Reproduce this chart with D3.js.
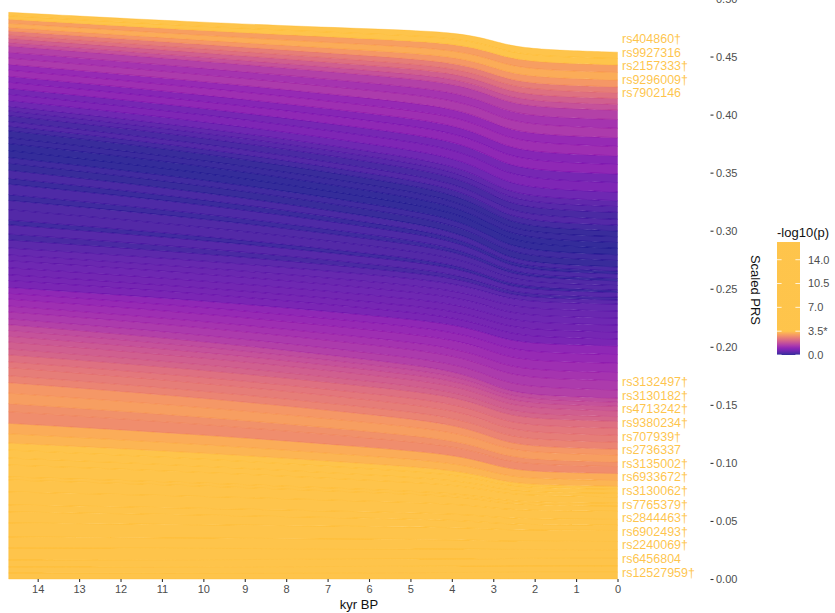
<!DOCTYPE html>
<html><head><meta charset="utf-8">
<script src="https://cdn.jsdelivr.net/npm/d3@7"></script>
<style>
body{margin:0;background:#fff;overflow:hidden;}
svg text{font-family:Arial,"Liberation Sans",sans-serif;}
</style></head><body>
<svg id="chart" width="835" height="613"></svg>
<script>
// ---- data ----
const timesKyr = [14.7, 10, 6, 3.9, 3, 2.3, 0];
const xTickValues = [14,13,12,11,10,9,8,7,6,5,4,3,2,1,0];
const yTickValues = [0,0.05,0.10,0.15,0.20,0.25,0.30,0.35,0.40,0.45,0.50];
const legendTickValues = [0,3.5,7,10.5,14];
const legendTickLabels = ["0.0","3.5*","7.0","10.5","14.0"];
const legendMax = 16.6;

// labelled SNPs (bottom-up)
const bottomLabels = ["rs12527959†","rs6456804","rs2240069†","rs6902493†","rs2844463†","rs7765379†","rs3130062†","rs6933672†","rs3135002†","rs2736337","rs707939†","rs9380234†","rs4713242†","rs3130182†","rs3132497†"];
const topLabels = ["rs7902146","rs9296009†","rs2157333†","rs9927316","rs404860†"];

// -log10(p) of each stacked SNP, bottom to top
const negLog10P = [15.2,6.1,9.8,4.9,7.4,5.3,8.1,4.4,6.3,4.0,5.6,3.9,4.6,3.8,3.6,
 3.3,3.2,2.75,2.8,3.0,2.9,
 2.6,2.5,2.4,2.3,
 2.1,2.0,1.9,1.8,1.7,
 1.5,1.4,1.3,1.2,1.1,1.0,
 0.75,0.7,0.65,0.6,0.55,0.5,
 0.4,0.2,0.35,0.12,0.3,0.28,0.1,0.25,0.08,0.22,
 0.05,0.12,0.03,
 0.02,0.08,0.05,
 0.15,0.3,0.2,0.35,0.45,
 0.6,0.8,0.7,1.0,0.9,1.2,1.1,1.4,1.3,1.5,
 1.8,2.0,2.3,2.5,
 2.9,3.2,3.0,
 4.2,5.5];

// scaled PRS contribution of each SNP at each time point (bottom to top)
const prs_14_7 = [.0052,.0052,.0060,.0103,.0095,.0121,.0095,.0060,.0112,.0103,.0026,.0103,.0060,.0069,.0060,
 .0080,.0090,.0100,.0070,.0090,.0090, .0060,.0070,.0050,.0060, .0050,.0060,.0050,.0050,.0050,
 .0050,.0060,.0050,.0060,.0050,.0050, .0060,.0050,.0060,.0060,.0050,.0060,
 .0070,.0050,.0080,.0040,.0090,.0080,.0050,.0090,.0050,.0070, .0060,.0050,.0060, .0060,.0050,.0060,
 .0040,.0040,.0050,.0040,.0040, .0050,.0054,.0050,.0054,.0050,.0054,.0050,.0054,.0050,.0054,
 .0030,.0035,.0030,.0035, .0030,.0035,.0035, .0030,.0030];
const prs_10 = [.0053,.0053,.0061,.0097,.0089,.0115,.0084,.0058,.0103,.0090,.0026,.0092,.0053,.0062,.0052,
 .0073,.0083,.0091,.0063,.0083,.0081, .0060,.0068,.0052,.0061, .0048,.0058,.0048,.0047,.0047,
 .0054,.0064,.0054,.0064,.0056,.0056, .0060,.0052,.0060,.0060,.0052,.0060,
 .0062,.0045,.0071,.0036,.0079,.0071,.0043,.0079,.0045,.0062, .0059,.0050,.0059, .0058,.0050,.0058,
 .0042,.0042,.0052,.0042,.0042, .0055,.0059,.0055,.0059,.0055,.0059,.0055,.0059,.0055,.0059,
 .0034,.0038,.0034,.0038, .0036,.0041,.0041, .0035,.0035];
const prs_6 = [.0055,.0053,.0062,.0090,.0083,.0109,.0071,.0055,.0092,.0075,.0026,.0080,.0046,.0053,.0043,
 .0066,.0076,.0081,.0056,.0076,.0071, .0060,.0065,.0055,.0060, .0045,.0055,.0045,.0043,.0043,
 .0060,.0070,.0060,.0070,.0062,.0062, .0060,.0055,.0060,.0060,.0055,.0060,
 .0053,.0038,.0061,.0030,.0066,.0061,.0036,.0066,.0038,.0053, .0058,.0050,.0058, .0055,.0050,.0055,
 .0045,.0045,.0055,.0045,.0045, .0063,.0068,.0063,.0068,.0063,.0068,.0063,.0068,.0063,.0068,
 .0040,.0043,.0040,.0043, .0045,.0050,.0050, .0043,.0043];
const prs_3_9 = [.0056,.0054,.0063,.0086,.0080,.0105,.0064,.0054,.0086,.0067,.0025,.0073,.0041,.0048,.0038,
 .0061,.0071,.0075,.0051,.0071,.0065, .0060,.0064,.0056,.0060, .0044,.0054,.0044,.0041,.0041,
 .0062,.0072,.0062,.0072,.0066,.0066, .0060,.0056,.0060,.0060,.0056,.0060,
 .0048,.0035,.0055,.0028,.0059,.0055,.0031,.0059,.0035,.0048, .0057,.0050,.0057, .0053,.0050,.0053,
 .0047,.0047,.0057,.0047,.0047, .0068,.0073,.0068,.0073,.0068,.0073,.0068,.0073,.0068,.0073,
 .0044,.0046,.0044,.0046, .0051,.0056,.0056, .0048,.0048];
const prs_3 = [.0057,.0054,.0064,.0080,.0074,.0100,.0054,.0052,.0077,.0055,.0025,.0063,.0035,.0041,.0031,
 .0055,.0065,.0067,.0045,.0065,.0057, .0060,.0062,.0058,.0059, .0042,.0052,.0042,.0038,.0038,
 .0067,.0077,.0067,.0077,.0071,.0071, .0060,.0058,.0060,.0060,.0058,.0060,
 .0041,.0029,.0047,.0023,.0049,.0047,.0025,.0049,.0029,.0041, .0056,.0050,.0056, .0051,.0050,.0051,
 .0049,.0049,.0059,.0049,.0049, .0073,.0078,.0073,.0078,.0073,.0078,.0073,.0078,.0073,.0078,
 .0048,.0049,.0048,.0049, .0057,.0062,.0062, .0053,.0053];
const prs_2_3 = [.0058,.0055,.0065,.0076,.0071,.0096,.0047,.0050,.0072,.0047,.0025,.0057,.0031,.0036,.0026,
 .0051,.0061,.0062,.0041,.0061,.0052, .0060,.0060,.0060,.0060, .0040,.0050,.0040,.0036,.0036,
 .0069,.0079,.0069,.0079,.0074,.0074, .0060,.0060,.0060,.0060,.0060,.0060,
 .0036,.0026,.0042,.0021,.0042,.0042,.0021,.0042,.0026,.0036, .0055,.0050,.0055, .0050,.0050,.0050,
 .0050,.0050,.0060,.0050,.0050, .0075,.0080,.0075,.0080,.0075,.0080,.0075,.0080,.0075,.0080,
 .0050,.0050,.0050,.0050, .0059,.0064,.0064, .0055,.0055];
const prs_0 = [.0058,.0055,.0065,.0075,.0070,.0095,.0045,.0050,.0070,.0045,.0025,.0055,.0030,.0035,.0025,
 .0050,.0060,.0060,.0040,.0060,.0050, .0060,.0060,.0060,.0060, .0040,.0050,.0040,.0035,.0035,
 .0070,.0080,.0070,.0080,.0075,.0075, .0060,.0060,.0060,.0060,.0060,.0060,
 .0035,.0025,.0040,.0020,.0040,.0040,.0020,.0040,.0025,.0035, .0055,.0050,.0055, .0050,.0050,.0050,
 .0050,.0050,.0060,.0050,.0050, .0075,.0081,.0075,.0081,.0075,.0081,.0075,.0081,.0075,.0081,
 .0050,.0050,.0050,.0050, .0060,.0065,.0065, .0055,.0055];

// ---- build ----
const prsByTime = [prs_14_7, prs_10, prs_6, prs_3_9, prs_3, prs_2_3, prs_0];
const nLayers = negLog10P.length;
const keys = d3.range(nLayers);
const table = timesKyr.map((t, k) => {
  const row = {t};
  keys.forEach(i => row[i] = prsByTime[k][i]);
  return row;
});
const series = d3.stack().keys(keys)(table);

const svg = d3.select("#chart");
const x = d3.scaleLinear().domain([14.7, 0]).range([8.7, 617.5]);
const y = d3.scaleLinear().domain([0, 0.5]).range([579, -1.5]);

const colorFor = p => d3.interpolatePlasma(Math.min(p, 3.5) / 3.5 * 0.85);

const area = d3.area()
  .x(d => x(d.data.t))
  .y0(d => y(d[0]))
  .y1(d => y(d[1]))
  .curve(d3.curveBasis);

svg.append("g").selectAll("path").data(series).join("path")
  .attr("d", area)
  .attr("fill", s => colorFor(negLog10P[s.key]))
  .attr("fill-opacity", 0.85)
  .attr("stroke", s => colorFor(negLog10P[s.key]))
  .attr("stroke-opacity", 0.75)
  .attr("stroke-width", 0.5);

// x axis
const xAxis = svg.append("g").attr("transform", "translate(0,579)")
  .call(d3.axisBottom(x).tickValues(xTickValues).tickFormat(d3.format("d")).tickSize(3).tickPadding(3));
xAxis.select(".domain").remove();
xAxis.selectAll("line").attr("stroke", "#333").attr("stroke-width", 1.1);
xAxis.selectAll("text").attr("fill", "#4d4d4d").attr("font-size", 11);

svg.append("text").attr("x", 359).attr("y", 609).attr("text-anchor", "middle")
  .attr("font-size", 13).attr("fill", "#111").text("kyr BP");

// y axis (right)
const yAxis = svg.append("g").attr("transform", "translate(710.5,0)")
  .call(d3.axisRight(y).tickValues(yTickValues).tickFormat(d3.format(".2f")).tickSize(3).tickPadding(2.5));
yAxis.select(".domain").remove();
yAxis.selectAll("line").attr("stroke", "#333").attr("stroke-width", 1.1);
yAxis.selectAll("text").attr("fill", "#4d4d4d").attr("font-size", 11);

svg.append("text").attr("transform", "translate(751,290) rotate(90)").attr("text-anchor", "middle")
  .attr("font-size", 13).attr("fill", "#111").text("Scaled PRS");

// labels with simple 1D repel
function repel(anchors, gap, lo, hi) {
  const n = anchors.length;
  const blocks = [];
  anchors.forEach((a, i) => {
    blocks.push({sum: a - i * gap, n: 1});
    while (blocks.length > 1) {
      const b2 = blocks[blocks.length - 1], b1 = blocks[blocks.length - 2];
      if (b1.sum / b1.n > b2.sum / b2.n) { blocks.pop(); b1.sum += b2.sum; b1.n += b2.n; } else break;
    }
  });
  const out = [];
  blocks.forEach(b => { for (let k = 0; k < b.n; k++) out.push(b.sum / b.n + out.length * gap); });
  out[n - 1] = Math.min(out[n - 1], hi);
  for (let i = n - 2; i >= 0; i--) out[i] = Math.min(out[i], out[i + 1] - gap);
  out[0] = Math.max(out[0], lo);
  for (let i = 1; i < n; i++) out[i] = Math.max(out[i], out[i - 1] + gap);
  return out;
}
const last = timesKyr.length - 1;
function placeLabels(names, layerIdx) {
  const items = names.map((nm, j) => {
    const s = series[layerIdx[j]][last];
    return {nm, a: y(s[1])};
  }).sort((p, q) => p.a - q.a);
  const pos = repel(items.map(d => d.a), 13.6, 6, 572);
  items.forEach((d, i) => d.y = pos[i]);
  return items;
}
const bottomItems = placeLabels(bottomLabels, d3.range(0, bottomLabels.length));
const topItems = placeLabels(topLabels, d3.range(nLayers - topLabels.length, nLayers));
svg.append("g").selectAll("text").data(bottomItems.concat(topItems)).join("text")
  .attr("x", x(0) + 4.5).attr("y", d => d.y).attr("dy", "0.36em")
  .attr("font-size", 12.5).attr("fill", colorFor(4)).attr("fill-opacity", 0.85)
  .text(d => d.nm);

// legend
const lg = svg.append("g");
lg.append("text").attr("x", 777).attr("y", 236.5).attr("font-size", 13).attr("fill", "#111").text("-log10(p)");
const ly = d3.scaleLinear().domain([0, legendMax]).range([355, 242]);
const grad = svg.append("defs").append("linearGradient").attr("id", "lg")
  .attr("x1", 0).attr("y1", 1).attr("x2", 0).attr("y2", 0);
const stopVals = d3.range(0, 11).map(i => i / 10 * 3.5).concat([legendMax]);
stopVals.forEach(v => {
  grad.append("stop").attr("offset", v / legendMax).attr("stop-color", colorFor(v));
});
lg.append("rect").attr("x", 777).attr("y", ly(legendMax)).attr("width", 23)
  .attr("height", ly(0) - ly(legendMax)).attr("fill", "url(#lg)").attr("fill-opacity", 0.85);
legendTickValues.forEach((v, i) => {
  lg.append("line").attr("x1", 777).attr("x2", 781.6).attr("y1", ly(v)).attr("y2", ly(v)).attr("stroke", "#fff").attr("stroke-opacity", 0.8);
  lg.append("line").attr("x1", 795.4).attr("x2", 800).attr("y1", ly(v)).attr("y2", ly(v)).attr("stroke", "#fff").attr("stroke-opacity", 0.8);
  lg.append("text").attr("x", 808).attr("y", ly(v)).attr("dy", "0.36em").attr("font-size", 11)
    .attr("fill", "#4d4d4d").text(legendTickLabels[i]);
});
</script>
</body></html>
